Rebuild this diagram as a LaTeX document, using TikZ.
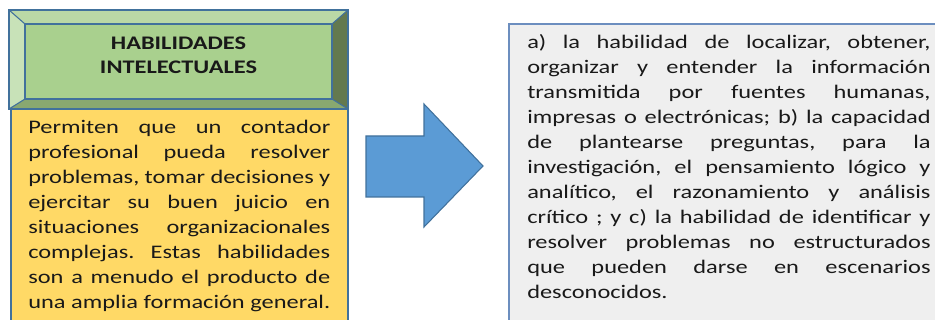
\documentclass[tikz,border=0pt]{standalone}
\usepackage{fontspec}
\setmainfont{Carlito}[FakeStretch=1.27]
\usetikzlibrary{positioning}

\definecolor{verdecara}{RGB}{169,208,142}
\definecolor{verdearriba}{RGB}{186,216,166}
\definecolor{verdeizq}{RGB}{200,226,184}
\definecolor{verdeder}{RGB}{99,121,79}
\definecolor{verdeabajo}{RGB}{137,168,112}
\definecolor{amarillo}{RGB}{255,217,102}
\definecolor{azulflecha}{RGB}{91,155,213}
\definecolor{bordeazul}{RGB}{65,113,156}
\definecolor{grisclaro}{RGB}{239,239,239}
\definecolor{bordecaja}{RGB}{108,142,191}

\newcommand{\jizq}[1]{\makebox[226.5pt][s]{#1}}
\newcommand{\jder}[1]{\makebox[302.5pt][s]{#1}}
\frenchspacing

\begin{document}
\begin{tikzpicture}[x=0.75pt,y=0.75pt,
    borde/.style={draw=bordeazul, line width=0.8pt},
    texto/.style={inner sep=0pt, align=left, text=black!90,
        font=\fontsize{14.4pt}{18.75pt}\selectfont}]
        \useasboundingbox (0,0) rectangle (935,-320);
        \clip (0,0) rectangle (935,-320);

        % Cuadro biselado
        \fill[verdearriba] (9,-10) -- (348,-10) -- (332,-24) -- (25,-24) -- cycle;
        \fill[verdeizq] (9,-10) -- (25,-24) -- (25,-99) -- (9,-109) -- cycle;
        \fill[verdeder] (348,-10) -- (348,-109) -- (332,-99) -- (332,-24) -- cycle;
        \fill[verdeabajo] (9,-109) -- (25,-99) -- (332,-99) -- (348,-109) -- cycle;
        \fill[verdecara] (25,-24) rectangle (332,-99);
        \draw[borde] (9,-10) rectangle (348,-109);
        \draw[borde] (25,-24) rectangle (332,-99);
        \draw[borde] (9,-10) -- (25,-24) (348,-10) -- (332,-24)
            (9,-109) -- (25,-99) (348,-109) -- (332,-99);
        \node[texto, align=center, anchor=north, font=\fontsize{14.4pt}{18pt}\bfseries]
            (titulo) at (178.5,-37) {HABILIDADES\\INTELECTUALES};

        % Cuadro amarillo
        \draw[borde, fill=amarillo] (11,-109) rectangle (348,-330);
        \node[texto, anchor=north west] (descripcion) at (28,-120) {%
            \jizq{Permiten que un contador}\\
            \jizq{profesional pueda resolver}\\
            \jizq{problemas, tomar decisiones y}\\
            \jizq{ejercitar su buen juicio en}\\
            \jizq{situaciones organizacionales}\\
            \jizq{complejas. Estas habilidades}\\
            \jizq{son a menudo el producto de}\\
            \jizq{una amplia formación general.}};

        % Flecha
        \draw[draw=bordeazul, line width=0.8pt, fill=azulflecha]
            (366,-136) -- (424,-136) -- (424,-104) -- (483,-166)
            -- (424,-227) -- (424,-197) -- (366,-197) -- cycle;

        % Cuadro derecho
        \draw[draw=bordecaja, line width=0.8pt, fill=grisclaro] (509,-24) rectangle (945,-330);
        \node[texto, anchor=north west] (detalle) at (527,-34) {%
            \jder{a) la habilidad de localizar, obtener,}\\
            \jder{organizar y entender la información}\\
            \jder{transmitida por fuentes humanas,}\\
            \jder{impresas o electrónicas; b) la capacidad}\\
            \jder{de plantearse preguntas, para la}\\
            \jder{investigación, el pensamiento lógico y}\\
            \jder{analítico, el razonamiento y análisis}\\
            \jder{crítico ; y c) la habilidad de identificar y}\\
            \jder{resolver problemas no estructurados}\\
            \jder{que pueden darse en escenarios}\\
            desconocidos.};
\end{tikzpicture}
\end{document}
